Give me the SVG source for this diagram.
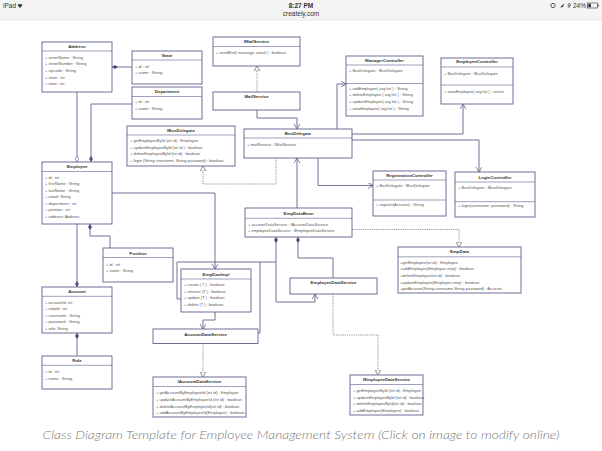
<svg xmlns="http://www.w3.org/2000/svg" width="602" height="451" viewBox="0 0 602 451">
<style>
.box{fill:#fff;stroke:#5e5e8e;stroke-width:0.9}
.sep{stroke:#5e5e8e;stroke-width:0.6}
.t{font-family:"Liberation Sans",Arial,sans-serif;font-size:4.4px;font-weight:bold;fill:#333;text-anchor:middle}
.r{font-family:"Liberation Sans",Arial,sans-serif;font-size:4px;fill:#555}
.c{fill:none;stroke:#62628f;stroke-width:0.9}
.d{fill:none;stroke:#777;stroke-width:0.8;stroke-dasharray:1.2 1}
.sb{font-family:"Liberation Sans",Arial,sans-serif;font-size:6.5px;fill:#333}
</style>
<defs>
<marker id="arr" markerUnits="userSpaceOnUse" markerWidth="8" markerHeight="8" refX="5" refY="3" orient="auto"><path d="M0,0 L5,3 L0,6" fill="none" stroke="#62628f" stroke-width="0.8"/></marker>
<marker id="tri" markerUnits="userSpaceOnUse" markerWidth="8" markerHeight="8" refX="5" refY="3" orient="auto"><path d="M0,0 L5,3 L0,6 Z" fill="#fff" stroke="#777" stroke-width="0.8"/></marker>
<marker id="dfs" markerUnits="userSpaceOnUse" markerWidth="8" markerHeight="6" refX="0" refY="2" orient="auto"><path d="M0,2 L3,0 L6,2 L3,4 Z" fill="#50507e"/></marker>
<marker id="dfe" markerUnits="userSpaceOnUse" markerWidth="8" markerHeight="6" refX="6" refY="2" orient="auto"><path d="M0,2 L3,0 L6,2 L3,4 Z" fill="#50507e"/></marker>
<marker id="dhe" markerUnits="userSpaceOnUse" markerWidth="8" markerHeight="6" refX="6" refY="2" orient="auto"><path d="M0,2 L3,0 L6,2 L3,4 Z" fill="#fff" stroke="#50507e" stroke-width="0.6"/></marker>
</defs>
<rect width="602" height="451" fill="#fff"/>
<g id="statusbar">
<rect x="0" y="0" width="602" height="20" fill="#f4f4f4"/>
<line x1="0" y1="20" x2="602" y2="20" stroke="#e2e2e2" stroke-width="0.8"/>
<text class="sb" x="3" y="8">iPad</text>
<path d="M20,8 L17.5,5 A4,4 0 0 1 22.5,5 Z" fill="#333"/>
<text class="sb" x="301" y="8" text-anchor="middle" font-weight="bold">8:27 PM</text>
<text class="sb" x="301" y="16" text-anchor="middle">creately.com</text>
<circle cx="553" cy="5.5" r="2.2" fill="none" stroke="#333" stroke-width="0.8"/>
<path d="M560,7.5 L564,3.5 L563,7 Z" fill="#333"/>
<path d="M569,3 L571,5 L569,7 M569,3 V8 M569,5.5 L567.5,4 M569,5.5 L567.5,7" fill="none" stroke="#333" stroke-width="0.6"/>
<text class="sb" x="586" y="8" text-anchor="end">24%</text>
<rect x="587.5" y="3" width="10" height="5" fill="none" stroke="#333" stroke-width="0.6"/>
<rect x="588.3" y="3.8" width="2.6" height="3.4" fill="#333"/>
<rect x="597.8" y="4.5" width="0.9" height="2" fill="#333"/>
</g>
<g id="connectors">
<path class="c" d="M112,67 H132" marker-start="url(#dfs)"/>
<path class="c" d="M77,92 V162" marker-end="url(#dhe)"/>
<path class="c" d="M132,104 H91 V162" marker-end="url(#dfe)"/>
<path class="c" d="M77,224 V287" marker-end="url(#dfe)"/>
<path class="c" d="M90,224 V236 H110 V248" marker-start="url(#dfs)"/>
<path class="c" d="M77,333 V356" marker-start="url(#dfs)"/>
<path class="c" d="M112,193 H215 V269" marker-end="url(#arr)"/>
<path class="c" d="M181,299 H177 V262 H276"/>
<path class="c" d="M276,237 V302 H315 V294" marker-start="url(#dfs)" marker-end="url(#arr)"/>
<path class="c" d="M260,262 V333 H258"/>
<path class="c" d="M215,312 V320 H203 V329" marker-end="url(#arr)"/>
<path class="c" d="M298,237 V258 H333 V278" marker-start="url(#dfs)"/>
<path class="d" d="M333,294 V335 H378 V375" marker-end="url(#tri)"/>
<path class="d" d="M203,343.5 V377" marker-end="url(#tri)"/>
<path class="d" d="M352,229.5 H459 V247" marker-end="url(#tri)"/>
<path class="c" d="M297,208 V158" marker-end="url(#arr)"/>
<path class="d" d="M276,158 V184 H203 V166" marker-end="url(#tri)"/>
<path class="c" d="M318,158 V185.5 H373" marker-end="url(#arr)"/>
<path class="c" d="M352,134 H463 V104" marker-end="url(#arr)"/>
<path class="c" d="M352,140 H479 V172" marker-end="url(#arr)"/>
<path class="c" d="M337,129 V84 H346" marker-end="url(#arr)"/>
<path class="c" d="M257,110 V118 H297 V129" marker-end="url(#arr)"/>
<path class="d" d="M257,92 V66" marker-end="url(#tri)"/>
</g>
<g id="Address">
<rect class="box" x="42" y="42" width="70" height="50"/>
<line class="sep" x1="42" y1="51" x2="112" y2="51"/>
<text class="t" x="77" y="47.8">Address</text>
<text class="r" x="45" y="58.8">+ streetName : String</text>
<text class="r" x="45" y="65.4">+ streetNumber : String</text>
<text class="r" x="45" y="72">+ zipcode : String</text>
<text class="r" x="45" y="78.6">+ state : int</text>
<text class="r" x="45" y="85.2">+ town : int</text>
</g>
<g id="State">
<rect class="box" x="132" y="51" width="70" height="33"/>
<line class="sep" x1="132" y1="60" x2="202" y2="60"/>
<text class="t" x="167" y="56.6">State</text>
<text class="r" x="135" y="67.5">+ id : int</text>
<text class="r" x="135" y="74.1">+ name : String</text>
</g>
<g id="Department">
<rect class="box" x="132" y="87" width="70" height="32"/>
<line class="sep" x1="132" y1="96.5" x2="202" y2="96.5"/>
<text class="t" x="167" y="93.2">Department</text>
<text class="r" x="135" y="103.2">+ id : int</text>
<text class="r" x="135" y="109.6">+ name : String</text>
</g>
<g id="IMailService">
<rect class="box" x="213" y="37" width="87" height="29"/>
<line class="sep" x1="213" y1="46.5" x2="300" y2="46.5"/>
<text class="t" x="256.5" y="43.2">IMailService</text>
<text class="r" x="216" y="54.2">+ sendMail( message, email ) : boolean</text>
</g>
<g id="MailService">
<rect class="box" x="213" y="92" width="87" height="18"/>
<text class="t" x="256.5" y="98.2">MailService</text>
</g>
<g id="ManagerController">
<rect class="box" x="346" y="56" width="77" height="60"/>
<line class="sep" x1="346" y1="65" x2="423" y2="65"/>
<line class="sep" x1="346" y1="83.5" x2="423" y2="83.5"/>
<text class="t" x="384.5" y="61.6">ManagerController</text>
<text class="r" x="349" y="72.2">+ BusDelegate : IBusDelegate</text>
<text class="r" x="349" y="89.8">+ addEmployee( arg list ) : String</text>
<text class="r" x="349" y="96.4">+ deleteEmployee ( arg list ) : String</text>
<text class="r" x="349" y="103">+ updateEmployee( arg list ) : String</text>
<text class="r" x="349" y="109.6">+ viewEmployee( arg list ) : String</text>
</g>
<g id="EmployeeController">
<rect class="box" x="441" y="58" width="72" height="46"/>
<line class="sep" x1="441" y1="67" x2="513" y2="67"/>
<line class="sep" x1="441" y1="85" x2="513" y2="85"/>
<text class="t" x="477" y="63.4">EmployeeController</text>
<text class="r" x="444" y="74.8">+ BusDelegate : IBusDelegate</text>
<text class="r" x="444" y="92.5">+ viewEmployee( arg list ) : return</text>
</g>
<g id="IBusDelegate">
<rect class="box" x="127" y="126" width="108" height="40"/>
<line class="sep" x1="127" y1="135" x2="235" y2="135"/>
<text class="t" x="181" y="131.6">IBusDelegate</text>
<text class="r" x="130" y="141.8">+ getEmployeeById (int id) : Employee</text>
<text class="r" x="130" y="148.5">+ updateEmployeeById (int id ) : boolean</text>
<text class="r" x="130" y="155.2">+ deleteEmployeeById (int id) : boolean</text>
<text class="r" x="130" y="161.9">+ login (String username, String password) : boolean</text>
</g>
<g id="BusDelegate">
<rect class="box" x="244" y="129" width="108" height="29"/>
<line class="sep" x1="244" y1="138" x2="352" y2="138"/>
<text class="t" x="298" y="134.8">BusDelegate</text>
<text class="r" x="247" y="145.8">+ mailService : IMailService</text>
</g>
<g id="RegistrationController">
<rect class="box" x="373" y="171" width="73" height="45"/>
<line class="sep" x1="373" y1="180" x2="446" y2="180"/>
<line class="sep" x1="373" y1="200" x2="446" y2="200"/>
<text class="t" x="409.5" y="176.6">RegistrationController</text>
<text class="r" x="376" y="187.2">+ BusDelegate : IBusDelegate</text>
<text class="r" x="376" y="205.6">+ register(Account) : String</text>
</g>
<g id="LoginController">
<rect class="box" x="455" y="172" width="80" height="45"/>
<line class="sep" x1="455" y1="182" x2="535" y2="182"/>
<line class="sep" x1="455" y1="201.7" x2="535" y2="201.7"/>
<text class="t" x="495" y="178.8">LoginController</text>
<text class="r" x="458" y="189.2">+ BusDelegate : IBusDelegate</text>
<text class="r" x="458" y="207.3">+ login(username, password) : String</text>
</g>
<g id="Employee">
<rect class="box" x="42" y="162" width="70" height="62"/>
<line class="sep" x1="42" y1="171.5" x2="112" y2="171.5"/>
<text class="t" x="77" y="167.8">Employee</text>
<text class="r" x="45" y="178.8">+ id : int</text>
<text class="r" x="45" y="185.3">+ firstName : String</text>
<text class="r" x="45" y="191.8">+ lastName : String</text>
<text class="r" x="45" y="198.3">+ email: String</text>
<text class="r" x="45" y="204.8">+ department : int</text>
<text class="r" x="45" y="211.3">+ position : int</text>
<text class="r" x="45" y="217.8">+ address: Address</text>
</g>
<g id="Position">
<rect class="box" x="103" y="248" width="70" height="34"/>
<line class="sep" x1="103" y1="257.5" x2="173" y2="257.5"/>
<text class="t" x="138" y="254.6">Position</text>
<text class="r" x="106" y="265.5">+ id : int</text>
<text class="r" x="106" y="272.2">+ name : String</text>
</g>
<g id="EmpDataBean">
<rect class="box" x="245" y="208" width="107" height="29"/>
<line class="sep" x1="245" y1="218.3" x2="352" y2="218.3"/>
<text class="t" x="298.5" y="214.8">EmpDataBean</text>
<text class="r" x="248" y="225.5">+ accountDataService : IAccountDataService</text>
<text class="r" x="248" y="232.2">+ employeeDataService : IEmployeeDataService</text>
</g>
<g id="EmpData">
<rect class="box" x="398" y="247" width="123" height="46"/>
<line class="sep" x1="398" y1="256.8" x2="521" y2="256.8"/>
<text class="t" x="459.5" y="253.3">EmpData</text>
<text class="r" x="400" y="263.6">+getEmployee(int id) : Employee</text>
<text class="r" x="400" y="270.3">+addEmployee(Employee emp) : boolean</text>
<text class="r" x="400" y="277">+deleteEmployee(int id) : boolean</text>
<text class="r" x="400" y="283.7">+updateEmployee(Employee emp) : boolean</text>
<text class="r" x="400" y="290.4">+getAccount(String username,String password) : Account</text>
</g>
<g id="Account">
<rect class="box" x="42" y="287" width="70" height="46"/>
<line class="sep" x1="42" y1="296.3" x2="112" y2="296.3"/>
<text class="t" x="77" y="292.7">Account</text>
<text class="r" x="45" y="303.8">+ accountId: int</text>
<text class="r" x="45" y="310.2">+ empId : int</text>
<text class="r" x="45" y="316.6">+ username : String</text>
<text class="r" x="45" y="323.2">+ password : String</text>
<text class="r" x="45" y="329.8">+ role: String</text>
</g>
<g id="Role">
<rect class="box" x="42" y="356" width="70" height="33"/>
<line class="sep" x1="42" y1="365.3" x2="112" y2="365.3"/>
<text class="t" x="77" y="361.8">Role</text>
<text class="r" x="45" y="373.2">+ id : int</text>
<text class="r" x="45" y="379.6">+ name : String</text>
</g>
<g id="EmpDaoImpl">
<rect class="box" x="181" y="269" width="70" height="43"/>
<line class="sep" x1="181" y1="279" x2="251" y2="279"/>
<text class="t" x="216" y="275.6">EmpDaoImpl</text>
<text class="r" x="184" y="285.8">+ create ( T ) : boolean</text>
<text class="r" x="184" y="292.5">+ retrieve (T ) : boolean</text>
<text class="r" x="184" y="299.2">+ update (T ) : boolean</text>
<text class="r" x="184" y="305.9">+ delete (T ) : boolean</text>
</g>
<g id="EmployeeDataService">
<rect class="box" x="290" y="278" width="87" height="16"/>
<text class="t" x="333.5" y="284.3">EmployeeDataService</text>
</g>
<g id="AccountDataService">
<rect class="box" x="153" y="329" width="105" height="14.5"/>
<text class="t" x="205.5" y="335.8">AccountDataService</text>
</g>
<g id="IAccountDataService">
<rect class="box" x="153" y="377" width="93" height="40"/>
<line class="sep" x1="153" y1="386.5" x2="246" y2="386.5"/>
<text class="t" x="199.5" y="383.2">IAccountDataService</text>
<text class="r" x="156" y="394.2">+ getAccountByEmployeeId (int id) : Employee</text>
<text class="r" x="156" y="400.8">+ updateAccountByEmployeeId (int id) : boolean</text>
<text class="r" x="156" y="407.5">+ deleteAccountByEmployeeId(int id) : boolean</text>
<text class="r" x="156" y="414.2">+ addAccountByEmployeeId(Employee) : boolean</text>
</g>
<g id="IEmployeeDataService">
<rect class="box" x="350" y="375" width="73" height="40"/>
<line class="sep" x1="350" y1="384.5" x2="423" y2="384.5"/>
<text class="t" x="386.5" y="381.4">IEmployeeDataService</text>
<text class="r" x="353" y="391.8">+ getEmployeeById (int id) : Employee</text>
<text class="r" x="353" y="398.5">+ updateEmployeeById (int id) : boolean</text>
<text class="r" x="353" y="405.2">+ deleteEmployeeById(int id) : boolean</text>
<text class="r" x="353" y="411.9">+ addEmployee(Employee) : boolean</text>
</g>
<text x="301" y="439" text-anchor="middle" font-family="Lato,'Open Sans',sans-serif" font-style="italic" font-weight="300" font-size="12" fill="#7a7a7a" textLength="517" lengthAdjust="spacingAndGlyphs">Class Diagram Template for Employee Management System (Click on image to modify online)</text>
</svg>
